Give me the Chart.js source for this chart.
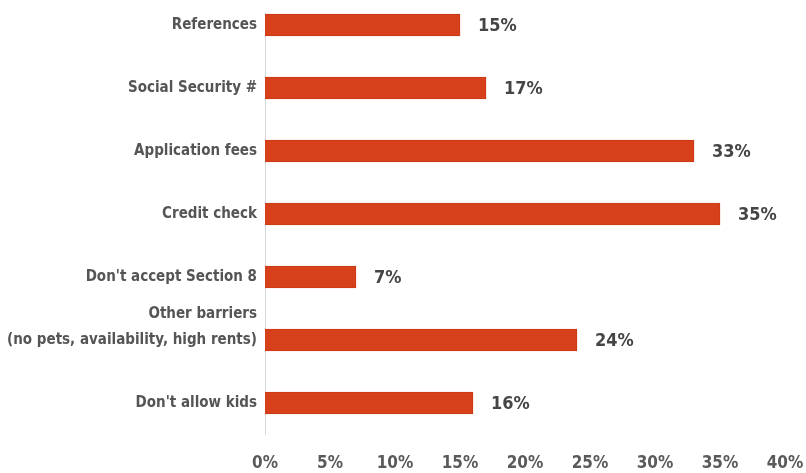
<!DOCTYPE html>
<html>
<head>
<meta charset="utf-8">
<script src="https://cdn.jsdelivr.net/npm/chart.js@4.4.1/dist/chart.umd.min.js"></script>
<style>
  html, body { margin: 0; padding: 0; background: #fff; }
  #wrap { width: 806px; height: 473px; }
</style>
</head>
<body>
<div id="wrap"><canvas id="grafico" width="806" height="473"></canvas></div>
<script>
const categorias = [
  'References',
  'Social Security #',
  'Application fees',
  'Credit check',
  'Don\'t accept Section 8',
  ['Other barriers', '(no pets, availability, high rents)', ''],
  'Don\'t allow kids'
];
const porcentajes = [15, 17, 33, 35, 7, 24, 16];
const ticksX = [0, 5, 10, 15, 20, 25, 30, 35, 40];

const fuente = "'DejaVu Sans Condensed', 'DejaVu Sans', sans-serif";

// etiquetas de valor al final de cada barra
const etiquetasValor = {
  id: 'etiquetasValor',
  afterDatasetsDraw(chart) {
    const ctx = chart.ctx;
    const meta = chart.getDatasetMeta(0);
    ctx.save();
    ctx.font = 'bold 18px ' + fuente;
    ctx.fillStyle = '#454545';
    ctx.textAlign = 'left';
    ctx.textBaseline = 'middle';
    meta.data.forEach((barra, i) => {
      ctx.fillText(porcentajes[i] + '%', barra.x + 18, barra.y + 1);
    });
    ctx.restore();
  }
};

// línea vertical gris del eje
const lineaEje = {
  id: 'lineaEje',
  beforeDatasetsDraw(chart) {
    const ctx = chart.ctx;
    const x = Math.round(chart.scales.x.getPixelForValue(0)) + 0.5;
    ctx.save();
    ctx.strokeStyle = '#d9d9d9';
    ctx.lineWidth = 1;
    ctx.beginPath();
    ctx.moveTo(x, chart.chartArea.top - 12);
    ctx.lineTo(x, chart.chartArea.bottom + 32);
    ctx.stroke();
    ctx.restore();
  }
};

new Chart(document.getElementById('grafico').getContext('2d'), {
  type: 'bar',
  data: {
    labels: categorias,
    datasets: [{
      data: porcentajes,
      backgroundColor: '#d6401a',
      borderColor: '#c93a16',
      borderWidth: 1,
      barThickness: 22,
      clip: false
    }]
  },
  options: {
    indexAxis: 'y',
    responsive: false,
    animation: false,
    layout: { padding: { top: 25, right: 21, bottom: 0, left: 0 } },
    plugins: {
      legend: { display: false },
      tooltip: { enabled: false }
    },
    scales: {
      x: {
        min: 0,
        max: 40,
        afterBuildTicks(scale) {
          scale.ticks = ticksX.map(v => ({ value: v }));
        },
        afterFit(scale) {
          scale.height = 70;
          scale.paddingLeft = 0;
          scale.paddingRight = 0;
        },
        grid: { display: false, drawTicks: false },
        border: { display: false },
        ticks: {
          padding: 50,
          maxRotation: 0,
          color: '#5a5a5a',
          font: { family: fuente, size: 17, weight: 'bold' },
          callback: v => v + '%'
        }
      },
      y: {
        offset: false,
        afterFit(scale) {
          scale.width = 265;
          scale.paddingTop = 0;
          scale.paddingBottom = 0;
        },
        grid: { display: false, drawTicks: false },
        border: { display: false },
        ticks: {
          autoSkip: false,
          padding: 8,
          color: '#555',
          font: { family: fuente, size: 15, weight: 'bold', lineHeight: 1.75 }
        }
      }
    }
  },
  plugins: [lineaEje, etiquetasValor]
});
</script>
</body>
</html>
